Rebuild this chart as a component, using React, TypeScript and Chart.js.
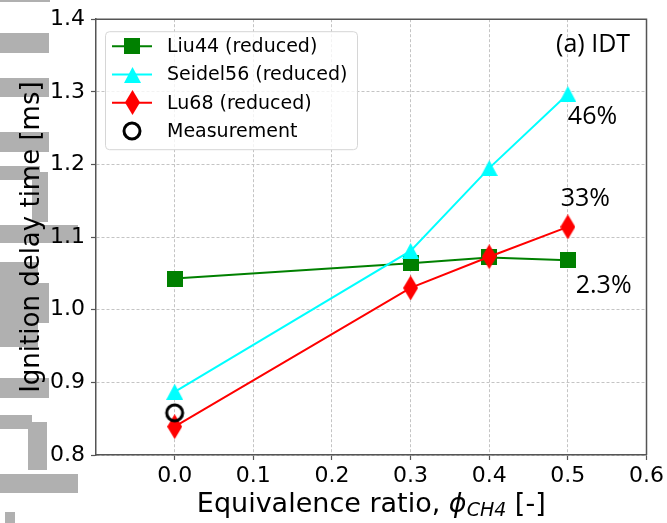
import React, { useEffect, useRef } from 'react';
import { Chart, registerables } from 'chart.js';
Chart.register(...registerables);

// ---- data ----
const xTicks = [0, 0.1, 0.2, 0.3, 0.4, 0.5, 0.6];
const yTicks = [0.8, 0.9, 1.0, 1.1, 1.2, 1.3, 1.4];
const phi = [0, 0.3, 0.4, 0.5];
const liu44 = [1.043, 1.064, 1.072, 1.068];
const seidel56 = [0.887, 1.081, 1.195, 1.297];
const lu68 = [0.839, 1.03, 1.073, 1.114];
const measPhi = [0];
const measurement = [0.858];
const seriesNames = ['Liu44 (reduced)', 'Seidel56 (reduced)', 'Lu68 (reduced)', 'Measurement'];
const seriesColors = ['#008000', '#00ffff', '#ff0000', '#000000'];
const annoTexts = ['(a) IDT', '46%', '33%', '2.3%'];
const annoX = [0.485, 0.5, 0.491, 0.51];
const annoY = [1.364, 1.266, 1.153, 1.033];

const TICK_FONT = { family: 'DejaVu Sans', size: 22 };

function makeCanvas(w: number, h: number, draw: (c: CanvasRenderingContext2D) => void) {
  const c = document.createElement('canvas');
  c.width = w;
  c.height = h;
  const ctx = c.getContext('2d')!;
  draw(ctx);
  return c;
}

function makeMarkers() {
  const square = makeCanvas(16, 16, (c) => {
    c.fillStyle = seriesColors[0];
    c.fillRect(0, 0, 16, 16);
  });
  const tri = makeCanvas(17, 16, (c) => {
    c.fillStyle = seriesColors[1];
    c.beginPath();
    c.moveTo(8.5, 0);
    c.lineTo(17, 16);
    c.lineTo(0, 16);
    c.closePath();
    c.fill();
  });
  const diamond = makeCanvas(15, 25, (c) => {
    c.fillStyle = seriesColors[2];
    c.beginPath();
    c.moveTo(7.5, 0);
    c.lineTo(15, 12.5);
    c.lineTo(7.5, 25);
    c.lineTo(0, 12.5);
    c.closePath();
    c.fill();
  });
  const circle = makeCanvas(22, 22, (c) => {
    c.strokeStyle = '#000';
    c.lineWidth = 3;
    c.beginPath();
    c.arc(11, 11, 8, 0, Math.PI * 2);
    c.stroke();
  });
  return [square, tri, diamond, circle];
}

const decorRects: number[][] = [
  [0, 0, 50, 2], [0, 33, 49, 20], [0, 78, 49, 19], [0, 132, 49, 20],
  [0, 166, 40, 14], [32, 172, 16, 50], [0, 225, 78, 18],
  [0, 262, 38, 85], [32, 283, 17, 40], [0, 378, 49, 20],
  [0, 415, 32, 14], [28, 422, 19, 48], [0, 474, 78, 19], [5, 512, 10, 11],
];

export default function App() {
  const ref = useRef<HTMLCanvasElement | null>(null);

  useEffect(() => {
    const markers = makeMarkers();

    const decorPlugin = {
      id: 'decor',
      beforeDraw(chart: any) {
        const ctx = chart.ctx;
        ctx.save();
        ctx.fillStyle = '#b0b0b0';
        decorRects.forEach((r) => ctx.fillRect(r[0], r[1], r[2], r[3]));
        ctx.restore();
      },
    };

    const framePlugin = {
      id: 'frame',
      afterDatasetsDraw(chart: any) {
        const { ctx, chartArea: a } = chart;
        ctx.save();
        ctx.strokeStyle = '#555';
        ctx.lineWidth = 1.5;
        ctx.beginPath();
        ctx.moveTo(a.left, a.top);
        ctx.lineTo(a.right, a.top);
        ctx.lineTo(a.right, a.bottom);
        ctx.stroke();
        ctx.restore();
      },
    };

    const legendPlugin = {
      id: 'customLegend',
      afterDraw(chart: any) {
        const { ctx, chartArea: a } = chart;
        const x0 = a.left + 9;
        const y0 = a.top + 12;
        const w = 252;
        const h = 118;
        ctx.save();
        ctx.beginPath();
        (ctx as any).roundRect(x0 + 0.5, y0 + 0.5, w, h, 4);
        ctx.fillStyle = 'rgba(255,255,255,0.8)';
        ctx.fill();
        ctx.strokeStyle = '#d6d6d6';
        ctx.lineWidth = 1;
        ctx.stroke();
        seriesNames.forEach((name, i) => {
          const y = y0 + 15 + i * 28.3;
          if (i < 3) {
            ctx.strokeStyle = seriesColors[i];
            ctx.lineWidth = 2;
            ctx.beginPath();
            ctx.moveTo(x0 + 7, y);
            ctx.lineTo(x0 + 47, y);
            ctx.stroke();
          }
          const m = markers[i];
          ctx.drawImage(m, Math.round(x0 + 27 - m.width / 2), Math.round(y - m.height / 2));
          ctx.fillStyle = '#000';
          ctx.font = '19px "DejaVu Sans"';
          ctx.textAlign = 'left';
          ctx.textBaseline = 'middle';
          ctx.fillText(name, x0 + 62, y + 1);
        });
        ctx.restore();
      },
    };

    const annoPlugin = {
      id: 'annos',
      afterDraw(chart: any) {
        const { ctx, scales } = chart;
        ctx.save();
        ctx.fillStyle = '#000';
        ctx.font = '25px "Open Sans"';
        ctx.textAlign = 'left';
        ctx.textBaseline = 'middle';
        annoTexts.forEach((t, i) => {
          ctx.fillText(t, scales.x.getPixelForValue(annoX[i]), scales.y.getPixelForValue(annoY[i]));
        });
        ctx.restore();
      },
    };

    const titlesPlugin = {
      id: 'titles',
      afterDraw(chart: any) {
        const { ctx, chartArea: a } = chart;
        ctx.save();
        ctx.fillStyle = '#000';
        // y title
        ctx.font = '26px "DejaVu Sans"';
        ctx.textAlign = 'center';
        ctx.textBaseline = 'middle';
        ctx.translate(32, (a.top + a.bottom) / 2);
        ctx.rotate(-Math.PI / 2);
        ctx.fillText('Ignition delay time [ms]', 0, 0);
        ctx.restore();

        // x title with subscript
        ctx.save();
        ctx.fillStyle = '#000';
        ctx.textBaseline = 'alphabetic';
        ctx.textAlign = 'left';
        const parts = [
          { t: 'Equivalence ratio, ', f: '27px "DejaVu Sans"', dy: 0 },
          { t: 'ϕ', f: 'italic 27px "DejaVu Sans"', dy: 0 },
          { t: 'CH4', f: 'italic 19px "DejaVu Sans"', dy: 4 },
          { t: ' [-]', f: '27px "DejaVu Sans"', dy: 0 },
        ];
        let total = 0;
        parts.forEach((p) => {
          ctx.font = p.f;
          total += ctx.measureText(p.t).width;
        });
        let x = (a.left + a.right) / 2 - total / 2;
        const base = 512;
        parts.forEach((p) => {
          ctx.font = p.f;
          ctx.fillText(p.t, x, base + p.dy);
          x += ctx.measureText(p.t).width;
        });
        ctx.restore();
      },
    };

    const gridCommon = {
      color: '#c4c4c4',
      lineWidth: 1,
      tickLength: 5,
      tickColor: '#555',
      tickWidth: 1.2,
      tickBorderDash: [],
    };
    const borderCommon = { display: true, color: '#555', width: 1.5, dash: [3, 2] };

    const chart = new Chart(ref.current!, {
      type: 'line',
      data: {
        datasets: [
          {
            label: seriesNames[0],
            data: phi.map((x, i) => ({ x, y: liu44[i] })),
            borderColor: seriesColors[0],
            borderWidth: 2,
            pointStyle: markers[0] as any,
            pointRadius: 8,
            order: 4,
          },
          {
            label: seriesNames[1],
            data: phi.map((x, i) => ({ x, y: seidel56[i] })),
            borderColor: seriesColors[1],
            borderWidth: 2,
            pointStyle: markers[1] as any,
            pointRadius: 8,
            order: 3,
          },
          {
            label: seriesNames[2],
            data: phi.map((x, i) => ({ x, y: lu68[i] })),
            borderColor: seriesColors[2],
            borderWidth: 2,
            pointStyle: markers[2] as any,
            pointRadius: 8,
            order: 2,
          },
          {
            label: seriesNames[3],
            data: measPhi.map((x, i) => ({ x, y: measurement[i] })),
            borderColor: seriesColors[3],
            showLine: false,
            pointStyle: markers[3] as any,
            pointRadius: 8,
            order: 1,
          },
        ],
      },
      options: {
        animation: false,
        responsive: false,
        devicePixelRatio: 1,
        layout: { padding: { left: 0, top: 16, right: 19, bottom: 0 } },
        plugins: { legend: { display: false }, tooltip: { enabled: false } },
        scales: {
          x: {
            type: 'linear',
            min: -0.1,
            max: 0.6,
            afterBuildTicks: (s: any) => {
              s.ticks = xTicks.map((v) => ({ value: v }));
            },
            afterFit: (s: any) => {
              s.height = 68;
            },
            ticks: {
              font: TICK_FONT,
              color: '#000',
              padding: 3,
              autoSkip: false,
              maxRotation: 0,
              callback: (v: any) => Number(v).toFixed(1),
            },
            grid: gridCommon as any,
            border: borderCommon as any,
          },
          y: {
            type: 'linear',
            min: 0.8,
            max: 1.4,
            afterBuildTicks: (s: any) => {
              s.ticks = yTicks.map((v) => ({ value: v }));
            },
            afterFit: (s: any) => {
              s.width = 96;
            },
            ticks: {
              font: TICK_FONT,
              color: '#000',
              padding: 6,
              autoSkip: false,
              callback: (v: any) => Number(v).toFixed(1),
            },
            grid: gridCommon as any,
            border: borderCommon as any,
          },
        },
      },
      plugins: [decorPlugin, framePlugin, legendPlugin, annoPlugin, titlesPlugin],
    });
    return () => chart.destroy();
  }, []);

  return (
    <div style={{ position: 'absolute', left: 0, top: 0, width: 667, height: 523, background: '#fff' }}>
      <canvas ref={ref} width={667} height={523} style={{ display: 'block' }} />
    </div>
  );
}
